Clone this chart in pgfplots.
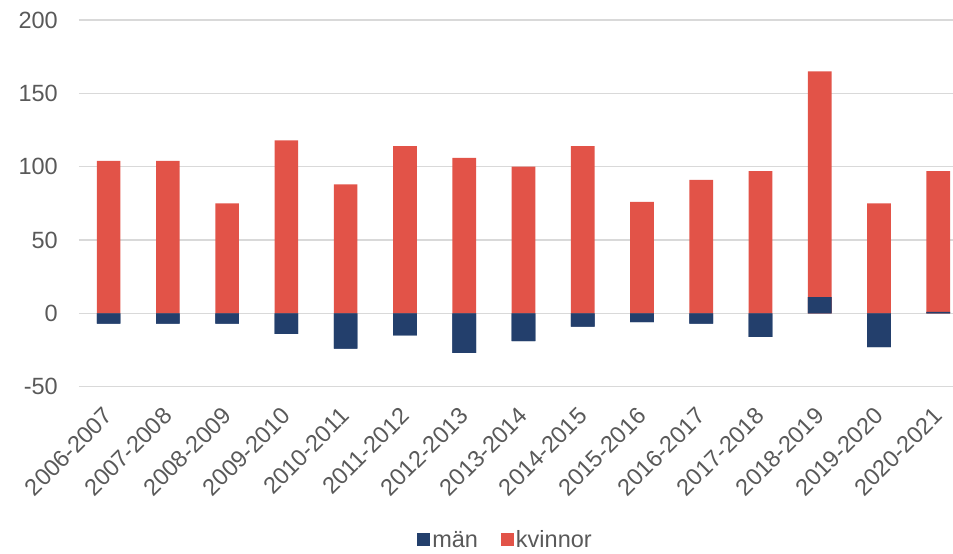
\documentclass[border=0pt]{standalone}
\usepackage{pgfplots}
\pgfplotsset{compat=1.18}
\usepackage{pgfplotstable}
\usepackage{fontspec}
\setmainfont{Liberation Sans}
\definecolor{manblue}{RGB}{35,63,108}
\definecolor{kvred}{RGB}{226,83,72}
\definecolor{txtgray}{RGB}{89,89,89}
\definecolor{gridgray}{RGB}{217,217,217}

\pgfplotstableread{
x m k
0 -7 104
1 -7 104
2 -7 75
3 -14 118
4 -24 88
5 -15 114
6 -27 106
7 -19 100
8 -9 114
9 -6 76
10 -7 91
11 -16 97
12 11 154
13 -23 75
14 1 96
}\data

\begin{document}
\begin{tikzpicture}
\begin{axis}[
  name=ax,
  scale only axis,
  width=874pt, height=366.7pt,
  xmin=-0.5, xmax=14.25,
  ymin=-50, ymax=200,
  ytick={-50,0,50,100,150,200},
  xtick={0,...,14},
  xticklabels={2006-2007,2007-2008,2008-2009,2009-2010,2010-2011,2011-2012,2012-2013,2013-2014,2014-2015,2015-2016,2016-2017,2017-2018,2018-2019,2019-2020,2020-2021},
  ymajorgrids,
  grid style={gridgray, line width=1.3pt},
  axis line style={draw=none},
  major tick length=0pt,
  tick label style={font=\fontsize{23.5}{28}\selectfont, text=txtgray},
  /pgf/number format/assume math mode=true,
  yticklabel style={anchor=east, inner sep=0pt, xshift=-21pt},
  xticklabel style={anchor=north east, inner sep=0pt, xshift=-6pt, yshift=-19pt, rotate=45},
  ybar, bar width=23.7pt, bar shift=0pt,
  legend style={at={(0.488,-0.418)}, anchor=center, draw=none, fill=none,
    font=\fontsize{23.5}{28}\selectfont, text=txtgray,
    legend columns=2, /tikz/every even column/.append style={column sep=21pt}},
  legend image code/.code={\fill[#1] (0pt,-6.5pt) rectangle (13pt,6.5pt);},
]
\addplot[fill=manblue, draw=none] table[x=x, y=m] {\data};
\addlegendentry{män}
\addplot[fill=kvred, draw=none] table[x=x, y expr={\thisrow{k}+max(\thisrow{m},0)}] {\data};
\addlegendentry{kvinnor}
\addplot[fill=manblue, draw=none, forget plot] table[x=x, y=m] {\data};
\end{axis}
\pgfresetboundingbox
\path (ax.south west) ++(-79pt,-167.3pt) rectangle ([yshift=20pt]ax.north east);
\end{tikzpicture}
\end{document}
